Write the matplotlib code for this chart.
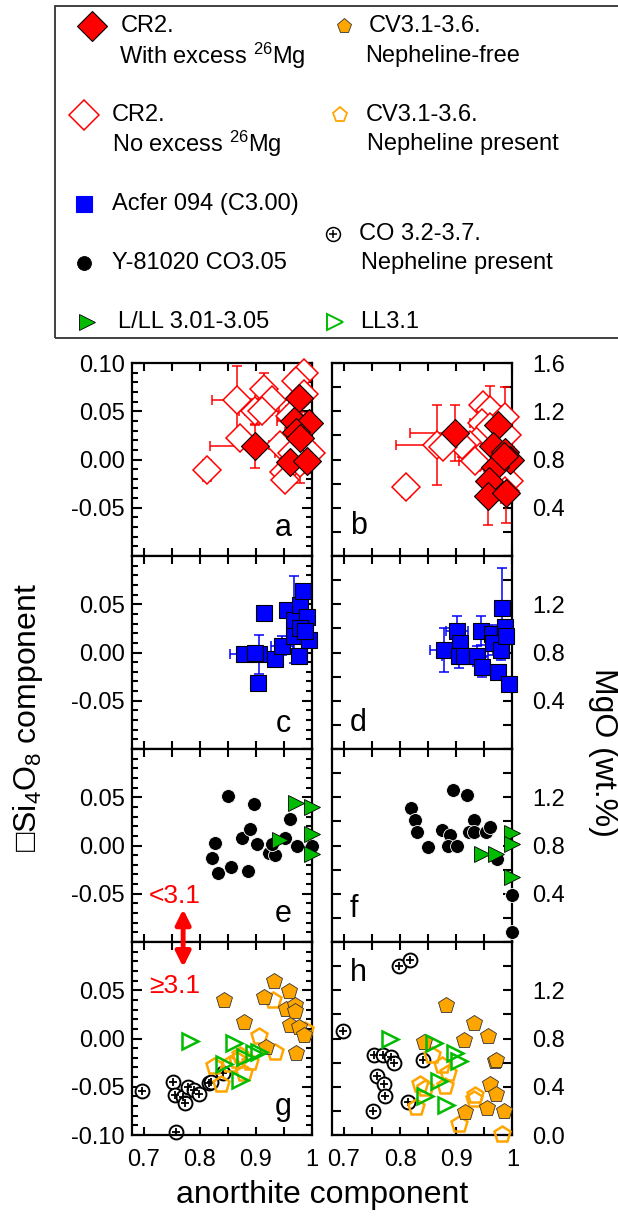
import matplotlib
matplotlib.use('Agg')
import matplotlib.pyplot as plt
import numpy as np
from matplotlib.lines import Line2D
from matplotlib.patches import Rectangle
from matplotlib.ticker import MultipleLocator, FuncFormatter

plt.rcParams['font.family'] = ['Liberation Sans', 'DejaVu Sans']
plt.rcParams['mathtext.fontset'] = 'custom'
plt.rcParams['mathtext.rm'] = 'Liberation Sans'
plt.rcParams['mathtext.default'] = 'regular'

# ---- data ----
# panel a: CR2, vacancy component vs anorthite
cr2_ex_a_x = [0.899, 0.976, 0.967, 0.994, 0.972, 0.979, 0.960, 0.991]
cr2_ex_a_y = [0.0135, 0.064, 0.040, 0.038, 0.029, 0.022, -0.003, -0.002]
cr2_ex_a_xerr = [0.080, 0, 0.03, 0, 0.02, 0, 0.01, 0]
cr2_ex_a_yerr = [0.022, 0.015, 0.01, 0.01, 0.015, 0.02, 0.01, 0.012]
cr2_no_a_x = [0.866, 0.914, 0.929, 0.899, 0.871, 0.813, 0.985, 0.972, 0.985, 0.943,
              0.949, 0.952, 0.979, 0.997, 0.964, 0.911, 0.960]
cr2_no_a_y = [0.062, 0.073, 0.062, 0.050, 0.022, -0.011, 0.090, 0.081, 0.068, 0.015,
              -0.0125, -0.021, -0.004, 0.0066, 0.0066, 0.050, 0.045]
cr2_no_a_xerr = [0.045, 0, 0.03, 0.03, 0, 0, 0, 0.01, 0, 0.02, 0, 0, 0, 0, 0.03, 0.03, 0.02]
cr2_no_a_yerr = [0.035, 0.017, 0.012, 0.013, 0, 0.011, 0.01, 0.01, 0.01, 0.01,
                 0.01, 0.01, 0.02, 0.01, 0.01, 0.01, 0.01]

# panel b: CR2, MgO vs anorthite
cr2_ex_b_x = [0.898, 0.975, 0.965, 0.987, 0.995, 0.969, 0.959, 0.957, 0.989, 0.985]
cr2_ex_b_y = [1.02, 1.09, 0.91, 0.86, 0.80, 0.74, 0.62, 0.50, 0.52, 0.83]
cr2_ex_b_xerr = [0.08, 0, 0.02, 0, 0, 0.02, 0, 0, 0, 0]
cr2_ex_b_yerr = [0.23, 0.15, 0.1, 0, 0.1, 0.1, 0, 0.24, 0.25, 0]
cr2_no_b_x = [0.866, 0.811, 0.948, 0.960, 0.987, 0.945, 0.990, 0.941, 0.925, 0.943,
              0.934, 0.993, 0.987, 0.910, 0.960, 0.876]
cr2_no_b_y = [0.92, 0.57, 1.25, 1.21, 1.15, 1.10, 1.00, 0.97, 0.92, 0.82,
              0.79, 0.62, 0.54, 0.92, 1.07, 0.90]
cr2_no_b_xerr = [0.074, 0, 0, 0, 0, 0.02, 0, 0.03, 0.03, 0.02, 0.03, 0, 0, 0.03, 0, 0]
cr2_no_b_yerr = [0.33, 0.08, 0, 0.2, 0.25, 0.08, 0.1, 0, 0.1, 0.1, 0, 0.15, 0.1, 0.1, 0.1, 0]

# panels c, d: Acfer 094
acfer_c_x = [0.878, 0.905, 0.903, 0.915, 0.934, 0.946, 0.956, 0.967, 0.979, 0.984,
             0.990, 0.976, 0.967, 0.979, 0.994, 0.988, 0.899]
acfer_c_y = [-0.002, -0.002, -0.032, 0.041, -0.007, 0.007, 0.044, 0.034, 0.049, 0.064,
             0.037, -0.0035, 0.017, 0.025, 0.013, 0.022, -0.001]
acfer_c_xerr = [0.025, 0, 0, 0, 0.01, 0.02, 0.01, 0, 0, 0, 0, 0, 0, 0, 0, 0, 0]
acfer_c_yerr = [0.003, 0.02, 0, 0, 0.008, 0.01, 0.005, 0.045, 0, 0, 0, 0, 0, 0, 0, 0, 0.008]
acfer_d_x = [0.878, 0.901, 0.907, 0.904, 0.914, 0.936, 0.946, 0.944, 0.963, 0.966,
             0.979, 0.987, 0.989, 0.981, 0.975, 0.994]
acfer_d_y = [0.82, 0.98, 0.88, 0.77, 0.77, 0.77, 0.68, 0.98, 0.95, 0.88,
             0.82, 1.01, 0.94, 1.17, 0.64, 0.54]
acfer_d_xerr = [0.025, 0.02, 0, 0.03, 0, 0.02, 0, 0, 0, 0, 0, 0, 0, 0, 0, 0]
acfer_d_yerr = [0.18, 0.12, 0, 0.1, 0, 0.08, 0.08, 0.12, 0.08, 0.1, 0.08, 0, 0, 0.33, 0, 0]

# panels e, f: Y-81020 and L/LL 3.01-3.05
y81_e_x = [0.850, 0.896, 0.828, 0.822, 0.832, 0.856, 0.886, 0.875, 0.890, 0.902,
           0.923, 0.933, 0.929, 0.952, 0.961, 0.973, 1.0]
y81_e_y = [0.051, 0.043, 0.003, -0.013, -0.028, -0.022, -0.026, 0.008, 0.017, 0.002,
           -0.008, -0.010, 0.002, 0.008, 0.027, -0.001, -0.001]
lll_e_x = [0.943, 0.972, 1.0, 1.0, 1.0]
lll_e_y = [0.006, 0.0445, 0.040, 0.012, -0.009]
y81_f_x = [0.820, 0.827, 0.831, 0.849, 0.875, 0.889, 0.885, 0.901, 0.895, 0.919,
           0.931, 0.922, 0.932, 0.952, 0.960, 0.972, 0.999, 0.999]
y81_f_y = [1.11, 1.01, 0.91, 0.79, 0.93, 0.89, 0.80, 0.80, 1.26, 1.22,
           1.01, 0.91, 0.91, 0.91, 0.95, 0.69, 0.39, 0.08]
lll_f_x = [0.946, 0.971, 1.0, 1.0, 1.0]
lll_f_y = [0.73, 0.73, 0.90, 0.81, 0.54]

# panels g, h: CO, CV and LL3.1
co_g_x = [0.697, 0.758, 0.753, 0.756, 0.771, 0.774, 0.780, 0.789, 0.798, 0.816, 0.820, 0.842]
co_g_y = [-0.0545, -0.097, -0.0455, -0.0587, -0.0604, -0.0673, -0.050, -0.0535, -0.057,
          -0.0466, -0.0449, -0.036]
cvf_g_x = [0.844, 0.879, 0.918, 0.914, 0.932, 0.958, 0.954, 0.970, 0.970, 0.960, 0.976, 0.986, 0.972]
cvf_g_y = [0.040, 0.017, -0.009, 0.043, 0.060, 0.049, 0.031, 0.0345, 0.028, 0.0145, 0.012,
           0.0035, -0.0155]
cvn_g_x = [0.930, 0.906, 0.934, 0.872, 0.890, 0.825, 0.854, 0.878, 0.837, 0.866, 0.988]
cvn_g_y = [0.040, 0.003, -0.014, -0.017, -0.024, -0.028, -0.026, -0.036, -0.047, -0.022, 0.0086]
ll31_g_x = [0.783, 0.861, 0.881, 0.896, 0.905, 0.844, 0.871]
ll31_g_y = [-0.003, -0.005, -0.019, -0.0155, -0.0145, -0.026, -0.043]

co_h_x = [0.699, 0.798, 0.818, 0.753, 0.770, 0.784, 0.790, 0.759, 0.772, 0.774, 0.752, 0.814, 0.841]
co_h_y = [0.86, 1.40, 1.45, 0.66, 0.66, 0.65, 0.60, 0.49, 0.42, 0.32, 0.20, 0.27, 0.62]
cvf_h_x = [0.881, 0.931, 0.914, 0.956, 0.843, 0.969, 0.960, 0.970, 0.916, 0.955, 0.984, 0.970]
cvf_h_y = [1.08, 0.93, 0.79, 0.82, 0.77, 0.61, 0.42, 0.34, 0.19, 0.22, 0.20, 0.62]
cvn_h_x = [0.857, 0.875, 0.886, 0.880, 0.836, 0.845, 0.829, 0.931, 0.934, 0.904, 0.981]
cvn_h_y = [0.66, 0.58, 0.51, 0.41, 0.42, 0.39, 0.23, 0.30, 0.33, 0.09, 0.01]
ll31_h_x = [0.783, 0.861, 0.898, 0.904, 0.870, 0.845, 0.881]
ll31_h_y = [0.80, 0.76, 0.68, 0.61, 0.45, 0.32, 0.25]

xticks = [0.7, 0.8, 0.9, 1.0]
xticklabels = ['0.7', '0.8', '0.9', '1']
left_labels = [[0.10, 0.05, 0.0, -0.05], [0.05, 0.0, -0.05], [0.05, 0.0, -0.05],
               [0.05, 0.0, -0.05, -0.10]]
right_labels = [[1.6, 1.2, 0.8, 0.4], [1.2, 0.8, 0.4], [1.2, 0.8, 0.4], [1.2, 0.8, 0.4, 0.0]]
letters = ['a', 'b', 'c', 'd', 'e', 'f', 'g', 'h']

# ---- styles ----
RED = '#ff0000'
BLUE = '#0000ff'
ORANGE = '#ffa500'
GREEN = '#00bb00'
W, H = 618, 1221

sty = {
    'cr2_ex': dict(marker='D', ms=14, mfc=RED, mec='black', mew=0.8),
    'cr2_no': dict(marker='D', ms=14, mfc='white', mec=RED, mew=1.1),
    'acfer': dict(marker='s', ms=11.5, mfc=BLUE, mec='black', mew=0.8),
    'y81': dict(marker='o', ms=10, mfc='black', mec='white', mew=0.6),
    'lll': dict(marker='>', ms=11.5, mfc=GREEN, mec='black', mew=0.6),
    'cvf': dict(marker='p', ms=12, mfc=ORANGE, mec='#333333', mew=0.6),
    'cvn': dict(marker='p', ms=12, mfc='none', mec=ORANGE, mew=1.8),
    'll31': dict(marker='>', ms=12, mfc='none', mec=GREEN, mew=1.8),
}


def pts(ax, x, y, key):
    ax.plot(x, y, ls='none', clip_on=False, zorder=3, **sty[key])


def co(ax, x, y, ms=10):
    ax.plot(x, y, ls='none', marker='o', ms=ms, mfc='white', mec='black', mew=1.4,
            clip_on=False, zorder=2)
    ax.plot(x, y, ls='none', marker='+', ms=ms * 0.55, mec='black', mew=1.3,
            clip_on=False, zorder=2)


def ebar(ax, x, y, xe, ye, color):
    xe = np.array(xe, float)
    ye = np.array(ye, float)
    xe[xe == 0] = np.nan
    ye[ye == 0] = np.nan
    ax.errorbar(x, y, xerr=xe, yerr=ye, fmt='none', ecolor=color, elinewidth=1.1,
                capsize=3.5, capthick=1.1, zorder=2, clip_on=False)


fig = plt.figure(figsize=(W / 100, H / 100), dpi=100)

col_left = [131.7, 332.0]
col_w = 180.5
row_top = 363.0
row_h = 193.0

axes = []
for r in range(4):
    for c in range(2):
        left = col_left[c] / W
        bottom = 1 - (row_top + row_h * (r + 1)) / H
        ax = fig.add_axes([left, bottom, col_w / W, row_h / H])
        ax.set_xlim(0.679, 1.0)
        ax.xaxis.set_major_locator(MultipleLocator(0.1))
        ax.xaxis.set_minor_locator(MultipleLocator(0.05))
        ax.set_xticks(xticks)
        ax.set_xticklabels(xticklabels)
        for sp in ax.spines.values():
            sp.set_linewidth(1.6)
        ax.tick_params(axis='x', which='both', direction='in', top=True, bottom=True,
                       length=6, width=1.5, labelsize=17, pad=10,
                       labelbottom=(r == 3))
        if c == 0:
            ax.set_ylim(-0.1, 0.1)
            ax.yaxis.set_major_locator(MultipleLocator(0.05))
            ax.yaxis.set_minor_locator(MultipleLocator(0.01))
            shown = left_labels[r]
            ax.yaxis.set_major_formatter(FuncFormatter(
                lambda v, p, s=shown: ('%.2f' % v).replace('-0.00', '0.00')
                if any(abs(v - t) < 1e-6 for t in s) else ''))
            ax.tick_params(axis='y', which='both', direction='in', left=True, right=True,
                           width=1.5, labelsize=17, pad=5)
            ax.tick_params(axis='y', which='major', length=7.5)
            ax.tick_params(axis='y', which='minor', length=4.5)
        else:
            ax.set_ylim(0.0, 1.6)
            ax.yaxis.set_major_locator(MultipleLocator(0.4))
            ax.yaxis.set_minor_locator(MultipleLocator(0.2))
            shown = right_labels[r]
            ax.yaxis.set_major_formatter(FuncFormatter(
                lambda v, p, s=shown: '%.1f' % v
                if any(abs(v - t) < 1e-6 for t in s) else ''))
            ax.tick_params(axis='y', which='both', direction='in', left=True, right=True,
                           labelleft=False, labelright=True, length=6.5, width=1.5,
                           labelsize=17, pad=14)
        axes.append(ax)

ax_a, ax_b, ax_c, ax_d, ax_e, ax_f, ax_g, ax_h = axes

# a, b
ebar(ax_a, cr2_no_a_x, cr2_no_a_y, cr2_no_a_xerr, cr2_no_a_yerr, RED)
pts(ax_a, cr2_no_a_x, cr2_no_a_y, 'cr2_no')
ebar(ax_a, cr2_ex_a_x, cr2_ex_a_y, cr2_ex_a_xerr, cr2_ex_a_yerr, RED)
pts(ax_a, cr2_ex_a_x, cr2_ex_a_y, 'cr2_ex')
ebar(ax_b, cr2_no_b_x, cr2_no_b_y, cr2_no_b_xerr, cr2_no_b_yerr, RED)
pts(ax_b, cr2_no_b_x, cr2_no_b_y, 'cr2_no')
ebar(ax_b, cr2_ex_b_x, cr2_ex_b_y, cr2_ex_b_xerr, cr2_ex_b_yerr, RED)
pts(ax_b, cr2_ex_b_x, cr2_ex_b_y, 'cr2_ex')

# c, d
ebar(ax_c, acfer_c_x, acfer_c_y, acfer_c_xerr, acfer_c_yerr, BLUE)
pts(ax_c, acfer_c_x, acfer_c_y, 'acfer')
ebar(ax_d, acfer_d_x, acfer_d_y, acfer_d_xerr, acfer_d_yerr, BLUE)
pts(ax_d, acfer_d_x, acfer_d_y, 'acfer')

# e, f
pts(ax_e, y81_e_x, y81_e_y, 'y81')
pts(ax_e, lll_e_x, lll_e_y, 'lll')
pts(ax_f, y81_f_x, y81_f_y, 'y81')
pts(ax_f, lll_f_x, lll_f_y, 'lll')

# g, h
co(ax_g, co_g_x, co_g_y)
pts(ax_g, cvn_g_x, cvn_g_y, 'cvn')
pts(ax_g, cvf_g_x, cvf_g_y, 'cvf')
pts(ax_g, ll31_g_x, ll31_g_y, 'll31')
co(ax_h, co_h_x, co_h_y)
pts(ax_h, cvn_h_x, cvn_h_y, 'cvn')
pts(ax_h, cvf_h_x, cvf_h_y, 'cvf')
pts(ax_h, ll31_h_x, ll31_h_y, 'll31')

# panel letters
letter_pos = [(0.84, 0.145), (0.145, 0.155), (0.84, 0.13), (0.145, 0.135),
              (0.84, 0.145), (0.12, 0.17), (0.84, 0.145), (0.145, 0.84)]
for ax, lt, (lx, ly) in zip(axes, letters, letter_pos):
    ax.text(lx, ly, lt, transform=ax.transAxes, fontsize=22, ha='center', va='center')

# petrologic type arrow
ax_e.text(0.24, 0.24, '<3.1', transform=ax_e.transAxes, color=RED, fontsize=19,
          ha='center', va='center')
ax_g.text(0.24, 0.77, '\u22653.1', transform=ax_g.transAxes, color=RED, fontsize=19,
          ha='center', va='center', family=['Liberation Sans', 'DejaVu Sans'])
ax_g.annotate('', xy=(0.285, 0.87), xycoords=ax_g.transAxes,
              xytext=(0.285, 0.17), textcoords=ax_e.transAxes,
              arrowprops=dict(arrowstyle='<|-|>', color=RED, lw=3.5,
                              mutation_scale=22, shrinkA=0, shrinkB=0),
              annotation_clip=False)

# axis labels
fig.text(322 / W, 1 - 1195 / H, 'anorthite component', fontsize=23, ha='center', va='center')
fig.text(28 / W, 1 - 718 / H, '\u25a1Si$_4$O$_8$ component', fontsize=23, rotation=90,
         ha='center', va='center', family=['Liberation Sans', 'DejaVu Sans'])
fig.text(603 / W, 1 - 752 / H, 'MgO (wt.%)', fontsize=23, rotation=270,
         ha='center', va='center')

# legend box
fig.add_artist(Rectangle((55 / W, 1 - 338 / H), 700 / W, 332 / H, transform=fig.transFigure,
                         fill=False, ec='#333333', lw=1.3))


def leg_marker(px, py, key=None, co_ms=None):
    if co_ms is not None:
        fig.add_artist(Line2D([px / W], [1 - py / H], transform=fig.transFigure, ls='none',
                              marker='o', ms=co_ms, mfc='white', mec='black', mew=1.1))
        fig.add_artist(Line2D([px / W], [1 - py / H], transform=fig.transFigure, ls='none',
                              marker='+', ms=co_ms * 0.55, mec='black', mew=1.1))
    else:
        fig.add_artist(Line2D([px / W], [1 - py / H], transform=fig.transFigure,
                              ls='none', **key))


def leg_text(px, py, s):
    fig.text(px / W, 1 - py / H, s, fontsize=17, ha='left', va='center')


leg_marker(92, 26, dict(sty['cr2_ex'], ms=15))
leg_text(121, 26, 'CR2.')
leg_text(119, 56, 'With excess $^{26}$Mg')
leg_marker(84, 115, dict(sty['cr2_no'], ms=15))
leg_text(112, 115, 'CR2.')
leg_text(112, 144, 'No excess $^{26}$Mg')
leg_marker(84, 204, dict(sty['acfer'], mec=BLUE, ms=11))
leg_text(112, 204, 'Acfer 094 (C3.00)')
leg_marker(84, 263, dict(sty['y81'], mec='black', ms=10))
leg_text(112, 263, 'Y-81020 CO3.05')
leg_marker(87, 322, dict(sty['lll'], ms=12))
leg_text(118, 322, 'L/LL 3.01-3.05')
leg_marker(344, 26, dict(sty['cvf'], ms=11))
leg_text(369, 26, 'CV3.1-3.6.')
leg_text(365, 56, 'Nepheline-free')
leg_marker(340, 115, dict(sty['cvn'], ms=11, mew=1.3))
leg_text(366, 115, 'CV3.1-3.6.')
leg_text(367, 144, 'Nepheline present')
leg_marker(333, 234, co_ms=10)
leg_text(359, 234, 'CO 3.2-3.7.')
leg_text(361, 263, 'Nepheline present')
leg_marker(335, 322, dict(sty['ll31'], ms=12, mew=1.4))
leg_text(360, 322, 'LL3.1')

fig.savefig('out.png', dpi=100)
